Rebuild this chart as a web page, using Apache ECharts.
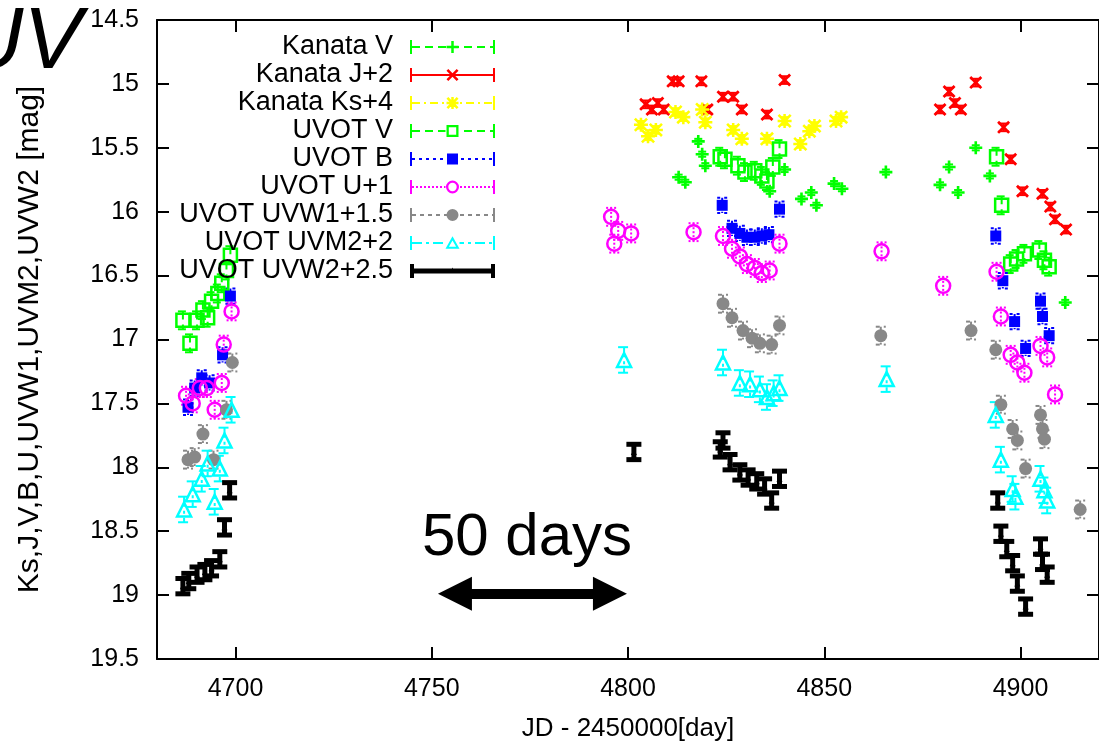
<!DOCTYPE html>
<html><head><meta charset="utf-8">
<script src="https://cdn.jsdelivr.net/npm/echarts@6/dist/echarts.min.js"></script>
<style>html,body{margin:0;padding:0;background:#fff}#c{width:1099px;height:747px}</style>
</head><body><div id="c"></div>
<script>
const FONT = '"Liberation Sans", Arial, Helvetica, sans-serif';

// ---- data: [JD - 2450000, magnitude] ----
const seriesNames = ['Kanata V','Kanata J+2','Kanata Ks+4','UVOT V','UVOT B','UVOT U+1','UVOT UVW1+1.5','UVOT UVM2+2','UVOT UVW2+2.5'];
const kanataV = [[4812.9,15.73],[4814.6,15.77],[4817.9,15.45],[4818.9,15.55],[4819.7,15.64],[4836.1,15.84],[4839.9,15.67],[4844.2,15.90],[4846.7,15.85],[4848.0,15.95],[4852.5,15.78],[4854.5,15.82],[4865.7,15.69],[4879.5,15.79],[4881.8,15.65],[4884.1,15.85],[4888.6,15.50],[4892.2,15.72],[4911.4,16.71]];
const kanataJ = [[4804.5,15.16],[4806.1,15.20],[4807.6,15.15],[4809.1,15.20],[4811.4,14.98],[4812.9,14.98],[4818.7,14.98],[4820.2,15.20],[4824.2,15.10],[4826.8,15.10],[4829.0,15.20],[4835.4,15.24],[4839.9,14.97],[4879.5,15.20],[4881.8,15.06],[4883.3,15.15],[4884.8,15.20],[4888.6,14.99],[4895.7,15.34],[4897.5,15.59],[4900.5,15.84],[4905.6,15.86],[4907.6,15.96],[4908.8,16.06],[4911.6,16.14]];
const kanataKs = [[4803.3,15.32],[4805.1,15.41],[4807.1,15.36],[4812.1,15.22],[4814.1,15.26],[4818.9,15.20],[4819.7,15.30],[4826.8,15.36],[4829.0,15.43],[4835.4,15.43],[4839.9,15.29],[4843.9,15.47],[4846.2,15.37],[4847.5,15.33],[4853.0,15.29],[4854.3,15.26]];
const uvotV = [[4686.6,16.85],[4688.4,17.03],[4690.2,16.85],[4691.7,16.77],[4692.9,16.83],[4693.9,16.70],[4695.5,16.64],[4696.5,16.56],[4697.7,16.46],[4698.7,16.34],[4823.5,15.57],[4824.7,15.59],[4828.0,15.64],[4829.8,15.69],[4832.3,15.68],[4834.1,15.72],[4835.4,15.76],[4836.9,15.65],[4838.6,15.51],[4893.9,15.57],[4895.2,15.95],[4897.5,16.41],[4899.0,16.37],[4901.0,16.33],[4904.8,16.30],[4906.1,16.38],[4907.3,16.43]];
const uvotB = [[4687.9,17.53],[4689.6,17.38],[4691.4,17.30],[4693.4,17.34],[4696.7,17.12],[4698.7,16.66],[4824.0,15.95],[4826.5,16.13],[4828.5,16.17],[4830.3,16.20],[4832.3,16.20],[4834.1,16.19],[4835.9,16.18],[4838.6,15.98],[4893.7,16.19],[4895.5,16.54],[4898.5,16.86],[4901.3,17.07],[4905.1,16.70],[4905.6,16.82],[4907.3,16.97]];
const uvotU = [[4687.4,17.44],[4689.1,17.50],[4690.9,17.38],[4692.7,17.38],[4694.7,17.55],[4696.5,17.34],[4697.0,17.04],[4699.0,16.78],[4795.7,16.04],[4796.5,16.25],[4797.5,16.15],[4800.8,16.17],[4816.7,16.16],[4824.2,16.19],[4826.5,16.29],[4828.5,16.35],[4830.3,16.41],[4832.3,16.44],[4834.1,16.48],[4836.1,16.46],[4838.6,16.25],[4864.6,16.31],[4880.3,16.58],[4893.9,16.47],[4895.0,16.82],[4897.5,17.12],[4899.2,17.18],[4901.0,17.26],[4905.1,17.05],[4906.8,17.14],[4908.8,17.43]];
const uvotW1 = [[4687.9,17.94],[4689.6,17.92],[4691.7,17.74],[4694.4,17.94],[4697.7,17.55],[4699.2,17.18],[4824.2,16.72],[4826.5,16.83],[4829.3,16.93],[4831.6,16.99],[4833.6,17.03],[4836.6,17.04],[4838.6,16.89],[4864.4,16.97],[4887.4,16.93],[4893.7,17.08],[4895.0,17.51],[4898.0,17.70],[4899.2,17.79],[4901.3,18.01],[4905.1,17.59],[4905.6,17.70],[4906.1,17.78],[4915.2,18.33]];
const uvotM2 = [[4686.9,18.33],[4689.1,18.21],[4691.4,18.09],[4692.9,17.97],[4694.7,18.27],[4696.0,18.01],[4697.2,17.79],[4699.0,17.55],[4799.0,17.16],[4824.2,17.18],[4828.5,17.34],[4831.1,17.35],[4833.6,17.39],[4835.4,17.45],[4837.1,17.42],[4838.6,17.38],[4865.9,17.31],[4893.7,17.59],[4895.0,17.94],[4898.0,18.17],[4898.7,18.23],[4905.1,18.09],[4906.1,18.18],[4906.8,18.26]];
const uvotW2 = [[4686.6,18.93],[4688.1,18.89],[4690.2,18.84],[4692.2,18.82],[4693.9,18.79],[4696.0,18.72],[4697.2,18.47],[4698.5,18.18],[4801.5,17.88],[4823.5,17.86],[4824.2,17.79],[4826.0,17.96],[4828.5,18.04],[4830.6,18.08],[4832.8,18.11],[4834.8,18.15],[4836.6,18.26],[4838.6,18.09],[4894.2,18.26],[4895.0,18.52],[4896.5,18.64],[4898.0,18.75],[4899.2,18.91],[4901.3,19.09],[4905.1,18.62],[4905.6,18.74],[4906.8,18.84]];
const errMag = [0.02,0.03,0.03,0.07,0.06,0.07,0.07,0.10,0.06];
const xTicks = [4700,4750,4800,4850,4900];
const arrowDays = [4755.9, 4795.4];
const arrowMag = 18.99;

// ---- styles ----
const colors = ['#00ff00','#ff0000','#ffff00','#00ff00','#0000ff','#ff00ff','#888888','#00ffff','#000000'];
const dashes = [[8,5],null,[8,4,2,4],[8,5],[3,4],[2,2],[4,4],[10,4,3,4],null];
const lineW = [2,2,2,2,2,2,2,2,5];
const capW = [8,10,8,10,10,10,10,12,15];

const PLUS = 'path://M4,0L6,0L6,4L10,4L10,6L6,6L6,10L4,10L4,6L0,6L0,4L4,4Z';
const CROSS = 'path://M0,1.5L1.5,0L5,3.5L8.5,0L10,1.5L6.5,5L10,8.5L8.5,10L5,6.5L1.5,10L0,8.5L3.5,5Z';
const STAR = 'path://M4.1,0L5.9,0L5.9,4.1L10,4.1L10,5.9L5.9,5.9L5.9,10L4.1,10L4.1,5.9L0,5.9L0,4.1L4.1,4.1Z M0,1.3L1.3,0L5,3.7L8.7,0L10,1.3L6.3,5L10,8.7L8.7,10L5,6.3L1.3,10L0,8.7L3.7,5Z';
const markers = [
  {symbol: PLUS, size: 13, open: false},
  {symbol: CROSS, size: 13, open: false},
  {symbol: STAR, size: 14, open: false},
  {symbol: 'rect', size: 13, open: true},
  {symbol: 'rect', size: 11, open: false},
  {symbol: 'circle', size: 14, open: true},
  {symbol: 'circle', size: 13, open: false},
  {symbol: 'triangle', size: 14, open: true},
  {symbol: 'triangle', size: 6, open: false}
];

// ---- legend icons (paths in a 85 x 14 box) ----
function R(x,y,w,h){return `M${x},${y}L${x+w},${y}L${x+w},${y+h}L${x},${y+h}Z`;}
function Rccw(x,y,w,h){return `M${x},${y}L${x},${y+h}L${x+w},${y+h}L${x+w},${y}Z`;}
function circ(cx,cy,r,cw){const s=cw?1:0;return `M${cx-r},${cy}A${r},${r},0,1,${s},${cx+r},${cy}A${r},${r},0,1,${s},${cx-r},${cy}Z`;}
function markerPath(k){
  const cx=42.5, cy=7;
  switch(k){
    case 0: return R(36.5,5.75,12,2.5)+R(41.25,1,2.5,12);
    case 1: { const t=1.8, o=[36.5,1]; const pts=[[0,t],[t,0],[6,6-t],[12-t,0],[12,t],[6+t,6],[12,12-t],[12-t,12],[6,6+t],[t,12],[0,12-t],[6-t,6]];
      return 'M'+pts.map(p=>`${p[0]+o[0]},${p[1]+o[1]}`).join('L')+'Z'; }
    case 2: return markerPath(0)+markerPath(1);
    case 3: return R(36.5,1,12,12)+Rccw(38.8,3.3,7.4,7.4);
    case 4: return R(37,1.5,11,11);
    case 5: return circ(cx,cy,6.5,true)+circ(cx,cy,4.2,false);
    case 6: return circ(cx,cy,6,true);
    case 7: return 'M42.5,0.3L49.5,12.7L35.5,12.7Z'+'M42.5,4.6L38.9,10.7L46.1,10.7Z';
    case 8: return 'M42.5,3.5L45.5,9.5L39.5,9.5Z';
  }
}
function legendIcon(k){
  const W=85,H=14,lw=lineW[k],cap=lw>3?4:2;
  let p = R(0,0,cap,H)+R(W-cap,0,cap,H);
  const pat = dashes[k] || [W];
  const skip = markers[k].open ? [35.5,49.5] : null;
  let x=cap, i=0;
  const addSeg=(a,b)=>{ if(b>a) p+=R(a,7-lw/2,b-a,lw); };
  while(x < W-cap){
    const x2 = Math.min(x+pat[i%pat.length], W-cap);
    if(i%2===0){
      if(skip){ addSeg(x, Math.min(x2,skip[0])); addSeg(Math.max(x,skip[1]), x2); }
      else addSeg(x,x2);
    }
    x=x2; i++;
  }
  return 'path://'+p+markerPath(k);
}

const allData = [kanataV,kanataJ,kanataKs,uvotV,uvotB,uvotU,uvotW1,uvotM2,uvotW2];

function errRender(k){
  return function(params, api){
    const x=api.value(0), y=api.value(1), e=errMag[k];
    const a=api.coord([x,y-e]), b=api.coord([x,y+e]), h=capW[k]/2;
    const st={stroke:colors[k], lineWidth:lineW[k], lineDash:dashes[k]||null, fill:null};
    return {type:'group', children:[
      {type:'line', shape:{x1:a[0],y1:a[1],x2:b[0],y2:b[1]}, style:st},
      {type:'line', shape:{x1:a[0]-h,y1:a[1],x2:a[0]+h,y2:a[1]}, style:st},
      {type:'line', shape:{x1:b[0]-h,y1:b[1],x2:b[0]+h,y2:b[1]}, style:st}
    ]};
  };
}

const series = [];
allData.forEach((d,k)=>{
  series.push({type:'custom', name:seriesNames[k]+' err', data:d, encode:{x:0,y:1}, renderItem:errRender(k), silent:true, clip:true});
  const m = markers[k];
  const s = {type:'scatter', name:seriesNames[k], data:d, symbol:m.symbol, symbolSize:m.size, silent:true,
    emphasis:{disabled:true},
    itemStyle: m.open ? {color:'rgba(0,0,0,0)', borderColor:colors[k], borderWidth:2.5, opacity:1}
                      : {color:colors[k], borderWidth:0, opacity:1}};
  if(k===8){
    s.markLine = {silent:true, symbol:['triangle','triangle'], symbolSize:[34,34],
      lineStyle:{color:'#000', width:10, type:'solid'}, label:{show:false},
      emphasis:{disabled:true},
      data:[[{coord:[arrowDays[0],arrowMag]},{coord:[arrowDays[1],arrowMag]}]]};
  }
  series.push(s);
});

const axisCommon = {lineStyle:{color:'#000', width:2}};
const plain = v => String(v);
const chart = echarts.init(document.getElementById('c'), null, {renderer:'canvas'});
chart.setOption({
  animation:false,
  backgroundColor:'#fff',
  grid:{left:157, right:-6, top:20, bottom:84, containLabel:false},
  xAxis:[
    {type:'value', min:4680, max:4920, position:'bottom',
     axisLine:{show:true, onZero:false, ...axisCommon},
     axisTick:{show:true, inside:true, length:12, customValues:xTicks, lineStyle:{color:'#000', width:2}},
     axisLabel:{show:true, customValues:xTicks, formatter:plain, fontSize:25, margin:18, color:'#000', fontFamily:FONT},
     splitLine:{show:false},
     name:'JD - 2450000[day]', nameLocation:'middle', nameGap:57,
     nameTextStyle:{fontSize:26, color:'#000', fontFamily:FONT}},
    {type:'value', min:4680, max:4920, position:'top',
     axisLine:{show:true, onZero:false, ...axisCommon},
     axisTick:{show:true, inside:true, length:12, customValues:xTicks, lineStyle:{color:'#000', width:2}},
     axisLabel:{show:false}, splitLine:{show:false}}
  ],
  yAxis:[
    {type:'value', inverse:true, min:14.5, max:19.5, interval:0.5, position:'left',
     axisLine:{show:true, onZero:false, ...axisCommon},
     axisTick:{show:true, inside:true, length:12, lineStyle:{color:'#000', width:2}},
     axisLabel:{fontSize:25, margin:18, color:'#000', fontFamily:FONT, formatter:plain},
     splitLine:{show:false},
     name:'Ks,J,V,B,U,UVW1,UVM2,UVW2 [mag]', nameLocation:'middle', nameGap:112, nameRotate:90,
     nameTextStyle:{fontSize:30, color:'#000', fontFamily:FONT}},
    {type:'value', inverse:true, min:14.5, max:19.5, interval:0.5, position:'right',
     axisLine:{show:true, onZero:false, ...axisCommon},
     axisTick:{show:true, inside:true, length:12, lineStyle:{color:'#000', width:2}},
     axisLabel:{show:false}, splitLine:{show:false}}
  ],
  legend:{
    orient:'vertical', align:'right', right:604, top:33, padding:0,
    itemWidth:85, itemHeight:14, itemGap:0, selectedMode:false,
    itemStyle:{borderWidth:0},
    textStyle:{fontSize:27, color:'#000', fontFamily:FONT, lineHeight:28, padding:[0,12,0,0]},
    data: seriesNames.map((n,k)=>({name:n, icon:legendIcon(k), itemStyle:{color:colors[k], borderWidth:0, opacity:1}}))
  },
  graphic:[
    {type:'text', x:82, y:44, silent:true, style:{text:'UV', fill:'#000', font:'italic 88px '+FONT, align:'right', verticalAlign:'middle'}},
    {type:'text', x:527, y:538, silent:true, style:{text:'50 days', fill:'#000', font:'60px '+FONT, align:'center', verticalAlign:'middle'}}
  ],
  series: series
});
</script>
</body></html>
